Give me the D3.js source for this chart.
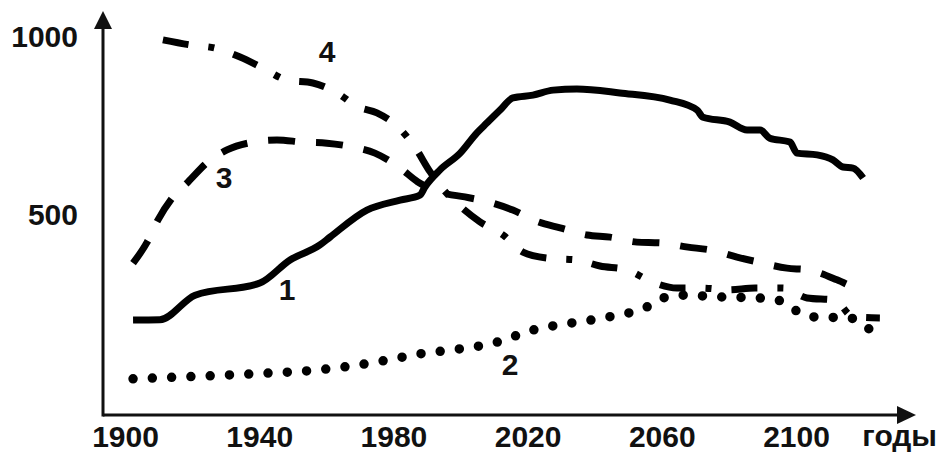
<!DOCTYPE html>
<html>
<head>
<meta charset="utf-8">
<script src="https://cdn.jsdelivr.net/npm/d3@7"></script>
<style>
  html, body { margin: 0; padding: 0; background: #fff; }
  svg { display: block; }
  text { font-family: "Liberation Sans", Arial, sans-serif; font-weight: bold; fill: #111; }
</style>
</head>
<body>
<svg id="chart" width="943" height="452"></svg>
<script>
// ---- data ----
const xTicks = [1900, 1940, 1980, 2020, 2060, 2100];
const yTicks = [500, 1000];
const xAxisLabel = "годы";

// Curve 1 (solid)
const years1 = [1902.4, 1910.4, 1920.9, 1940.2, 1949.2, 1958.1, 1961.1, 1972.1, 1982.0, 1987.9, 1989.4, 1993.9, 1999.9, 2004.9, 2007.9, 2011.8, 2015.6, 2021.6, 2027.6, 2034.7, 2047.5, 2062.4, 2070.5, 2072.3, 2080.3, 2085.4, 2089.3, 2092.2, 2098.2, 2100.3, 2106.3, 2111.0, 2114.0, 2117.0, 2120.0];
const values1 = [202, 203, 272, 306, 371, 413, 435, 511, 539, 553, 576, 624, 671, 728, 756, 792, 826, 834, 848, 851, 840, 820, 792, 772, 758, 736, 736, 713, 702, 671, 666, 652, 632, 629, 601];

// Curve 2 (dotted)
const years2 = [1902.4, 1942.3, 1953.7, 1965.0, 1976.6, 1987.9, 1999.6, 2010.9, 2016.2, 2021.6, 2033.2, 2044.3, 2055.6, 2060.4, 2066.0, 2077.3, 2089.3, 2094.6, 2099.1, 2104.8, 2116.1, 2121.2, 2126.2];
const values2 = [37, 53, 59, 70, 87, 107, 121, 140, 157, 174, 194, 211, 239, 264, 272, 267, 264, 258, 233, 211, 208, 180, 160];

// Curve 3 (dashed)
const years3 = [1902.4, 1906.6, 1909.8, 1914.3, 1918.8, 1924.7, 1930.4, 1938.2, 1945.3, 1953.1, 1960.2, 1968.0, 1974.5, 1982.0, 1987.3, 1994.8, 2001.3, 2009.4, 2015.6, 2023.1, 2029.7, 2037.7, 2044.6, 2052.6, 2059.5, 2067.8, 2074.4, 2082.4, 2088.7, 2097.3, 2103.6, 2112.2, 2117.6, 2120.6];
const values3 = [362, 421, 483, 548, 590, 646, 680, 702, 708, 702, 699, 688, 671, 629, 590, 559, 548, 531, 511, 478, 461, 441, 435, 421, 419, 407, 399, 379, 365, 348, 343, 315, 292, 281];

// Curve 4 (dash-dot)
const years4 = [1911.3, 1919.4, 1926.8, 1934.3, 1941.1, 1948.3, 1956.0, 1963.2, 1969.4, 1975.1, 1981.4, 1986.4, 1990.9, 1995.4, 2000.1, 2005.8, 2012.7, 2018.6, 2026.1, 2034.7, 2041.6, 2049.6, 2057.1, 2064.5, 2072.0, 2079.7, 2087.8, 2096.1, 2103.3, 2111.6, 2117.0, 2125.0];
const values4 = [989, 975, 966, 941, 910, 876, 868, 840, 801, 784, 744, 688, 619, 563, 520, 478, 441, 393, 376, 371, 354, 343, 309, 292, 292, 287, 292, 292, 264, 258, 211, 208];

// Curve labels: [text, year, value]
const curveLabels = [["1", 1948.3, 258], ["2", 2014.8, 48], ["3", 1929.5, 573], ["4", 1960.2, 927]];

// ---- drawing ----
const svg = d3.select("#chart");
svg.append("rect").attr("width", 943).attr("height", 452).attr("fill", "#fff");

const x = d3.scaleLinear().domain([1900, 2100]).range([125, 796]);
const y = d3.scaleLinear().domain([500, 1000]).range([214, 36]);

const axisX0 = 103, axisY0 = 415;

// axes lines with arrows
const axes = svg.append("g").attr("stroke", "#111").attr("fill", "#111");
axes.append("line").attr("x1", axisX0).attr("y1", axisY0).attr("x2", 900).attr("y2", axisY0).attr("stroke-width", 3);
axes.append("path").attr("d", `M897,406 L916,415 L897,424 Z`).attr("stroke", "none");
axes.append("line").attr("x1", axisX0).attr("y1", axisY0 + 1.5).attr("x2", axisX0).attr("y2", 26).attr("stroke-width", 3);
axes.append("path").attr("d", `M94,29 L103,11 L112,29 Z`).attr("stroke", "none");

// x axis tick labels
const gx = svg.append("g").attr("transform", `translate(0,${axisY0})`)
  .call(d3.axisBottom(x).tickValues(xTicks).tickFormat(d3.format("d")).tickSize(0).tickPadding(0));
gx.select(".domain").remove();
gx.selectAll("text").attr("font-size", 30).attr("dy", null).attr("y", 32)
  .style("font-family", "'Liberation Sans', Arial, sans-serif").style("font-weight", "bold").attr("fill", "#111");

// y axis tick labels
const gy = svg.append("g").attr("transform", `translate(${axisX0},0)`)
  .call(d3.axisLeft(y).tickValues(yTicks).tickFormat(d3.format("d")).tickSize(0).tickPadding(25));
gy.select(".domain").remove();
gy.selectAll("text").attr("font-size", 30).attr("dy", "0.36em")
  .style("font-family", "'Liberation Sans', Arial, sans-serif").style("font-weight", "bold").attr("fill", "#111");

// axis title
svg.append("text").attr("x", 937).attr("y", 446).attr("text-anchor", "end")
  .attr("font-size", 30).text(xAxisLabel);

// curves
const line = d3.line().x(d => x(d[0])).y(d => y(d[1])).curve(d3.curveMonotoneX);
const zip = (a, b) => a.map((v, i) => [v, b[i]]);

const g = svg.append("g").attr("fill", "none").attr("stroke", "#000");

g.append("path").datum(zip(years3, values3)).attr("d", line)
  .attr("stroke-width", 7).attr("stroke-dasharray", "27,21");

g.append("path").datum(zip(years4, values4)).attr("d", line)
  .attr("stroke-width", 7).attr("stroke-dasharray", "26,20,6,20");

g.append("path").datum(zip(years2, values2)).attr("d", line)
  .attr("stroke-width", 9.5).attr("stroke-linecap", "round").attr("stroke-dasharray", "0,19.3");

g.append("path").datum(zip(years1, values1)).attr("d", line)
  .attr("stroke-width", 7).attr("stroke-linejoin", "round");

// curve number labels
svg.append("g").selectAll("text").data(curveLabels).join("text")
  .attr("x", d => x(d[1])).attr("y", d => y(d[2]))
  .attr("text-anchor", "middle").attr("font-size", 30)
  .text(d => d[0]);
</script>
</body>
</html>
